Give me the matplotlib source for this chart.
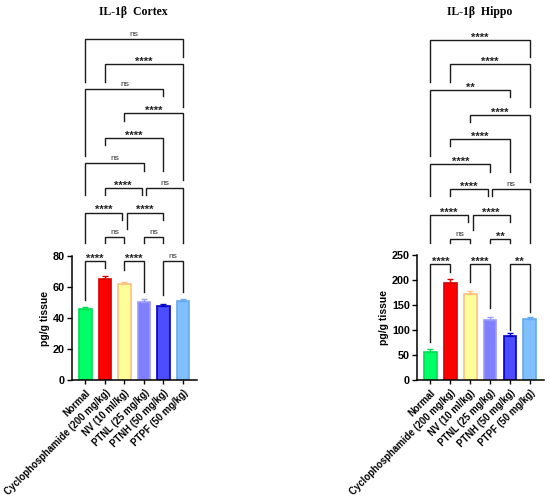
import numpy as np
import matplotlib as mpl
mpl.use("Agg")
import matplotlib.pyplot as plt

mpl.rcParams.update({
    "font.family": ["Liberation Sans", "DejaVu Sans"],
    "font.weight": "bold",
    "axes.linewidth": 1.1,
    "xtick.major.width": 1.0,
    "ytick.major.width": 1.0,
    "xtick.major.size": 3,
    "ytick.major.size": 3.5,
    "xtick.major.pad": 2.5,
    "ytick.major.pad": 1.5,
    "xtick.labelsize": 6.9,
    "ytick.labelsize": 7.8,
})

groups = ["Normal", "Cyclophosphamide (200 mg/kg)", "NV (10 ml/kg)",
          "PTNL (25 mg/kg)", "PTNH (50 mg/kg)", "PTPF (50 mg/kg)"]
fill_colors = ["#00ff66", "#ff0000", "#ffff99", "#8080ff", "#4d4dff", "#80c0ff"]
edge_colors = ["#00dd55", "#d80000", "#ffc080", "#9a9aff", "#0000cc", "#66aaee"]

cortex_mean = [45.6, 65.0, 61.7, 50.6, 47.6, 50.7]
cortex_sem = [1.4, 1.8, 1.3, 1.5, 1.5, 1.5]
hippo_mean = [56.7, 194.5, 173.0, 120.0, 88.0, 122.0]
hippo_sem = [4.5, 7.0, 5.0, 6.5, 6.0, 5.0]

# comparisons (same order in both panels)
pairs = [(0, 5), (1, 5), (0, 4), (2, 5), (1, 4), (0, 3), (1, 3), (3, 5),
         (0, 2), (2, 4), (1, 2), (3, 4), (0, 1), (2, 3), (4, 5)]

cortex_labels = ["ns", "****", "ns", "****", "****", "ns", "****", "ns",
                 "****", "****", "ns", "ns", "****", "****", "ns"]
cortex_tops = [220, 204, 188, 172, 156, 140, 124, 124, 108, 108, 92, 92, 77, 77, 77]
cortex_leg_a = [192, 192, 144.5, 167, 151.5, 119.5, 119.5, 119.5, 88.7, 97.4,
                88.7, 88.7, 51.6, 71, 54.8]
cortex_leg_b = [208.4, 176, 183, 129, 134.8, 134.8, 119.5, 88.7, 103.5, 103.5,
                88.7, 88.7, 72.3, 56.8, 56.8]

hippo_labels = ["****", "****", "**", "****", "****", "****", "****", "ns",
                "****", "****", "ns", "**", "****", "****", "**"]
hippo_tops = [680, 632, 580, 530, 481, 432, 382, 382, 330, 330, 282, 282, 232, 232, 232]
hippo_leg_a = [596, 596, 448, 516, 468, 368, 368, 368, 273, 300, 273, 273, 77, 196, 100]
hippo_leg_b = [646, 546, 566, 396, 416, 416, 368, 273, 316, 316, 273, 273, 216, 144, 137]


def draw_panel(ax, means, sems, ymax, yticks, labels, tops, leg_a, leg_b, title, fig, tx):
    x = np.arange(len(groups))
    ax.bar(x, means, width=0.64, color=fill_colors, edgecolor=edge_colors,
           linewidth=1.2, zorder=2)
    for i in range(len(groups)):
        ax.errorbar(x[i], means[i], yerr=[[0], [sems[i]]], fmt="none",
                    ecolor=edge_colors[i], elinewidth=1.0, capsize=2.5,
                    capthick=1.0, zorder=3)

    ax.set_xlim(-0.68, 5.72)
    ax.set_ylim(0, ymax)
    ax.set_yticks(yticks)
    ax.set_xticks(x)
    ax.set_xticklabels(groups, rotation=45, ha="right", va="top",
                       rotation_mode="anchor", fontweight="bold")
    for lab in ax.get_yticklabels():
        lab.set_fontweight("bold")
    ax.set_ylabel("pg/g tissue", fontsize=7.5, fontweight="bold", labelpad=2)
    ax.spines["top"].set_visible(False)
    ax.spines["right"].set_visible(False)

    # brackets
    sh = 0.12
    for k, (a, b) in enumerate(pairs):
        xa, xb = float(a), float(b)
        for m, (c, d) in enumerate(pairs):
            if m == k or tops[m] != tops[k]:
                continue
            if c == b or d == b:
                xb -= sh
            if c == a or d == a:
                xa += sh
        ax.plot([xa, xa, xb, xb], [leg_a[k], tops[k], tops[k], leg_b[k]],
                color="#1a1a1a", lw=1.0, clip_on=False, solid_joinstyle="miter",
                zorder=4)
        lab = labels[k]
        if lab == "ns":
            ax.annotate(lab, xy=((xa + xb) / 2, tops[k]), xytext=(0, 2.2),
                        textcoords="offset points", ha="center", va="baseline",
                        fontsize=6, fontweight="normal", color="#333333",
                        annotation_clip=False)
        else:
            ax.annotate(lab, xy=((xa + xb) / 2, tops[k]), xytext=(0, -0.5),
                        textcoords="offset points", ha="center", va="baseline",
                        fontsize=8, fontweight="bold", color="#222222",
                        annotation_clip=False)

    fig.text(tx, 1 - 12 / 498, title, ha="center", va="center",
             family=["Liberation Serif", "DejaVu Serif"], fontweight="bold",
             fontsize=8.5)


fig = plt.figure(figsize=(5.5, 4.98), dpi=100)
ax1 = fig.add_axes([72 / 550, 1 - 380 / 498, 125 / 550, 124 / 498])
ax2 = fig.add_axes([417 / 550, 1 - 380 / 498, 127 / 550, 125 / 498])

draw_panel(ax1, cortex_mean, cortex_sem, 80, [0, 20, 40, 60, 80],
           cortex_labels, cortex_tops, cortex_leg_a, cortex_leg_b,
           "IL-1β  Cortex", fig, 133 / 550)
draw_panel(ax2, hippo_mean, hippo_sem, 250, [0, 50, 100, 150, 200, 250],
           hippo_labels, hippo_tops, hippo_leg_a, hippo_leg_b,
           "IL-1β  Hippo", fig, 480 / 550)

fig.savefig("out.png", dpi=100)
